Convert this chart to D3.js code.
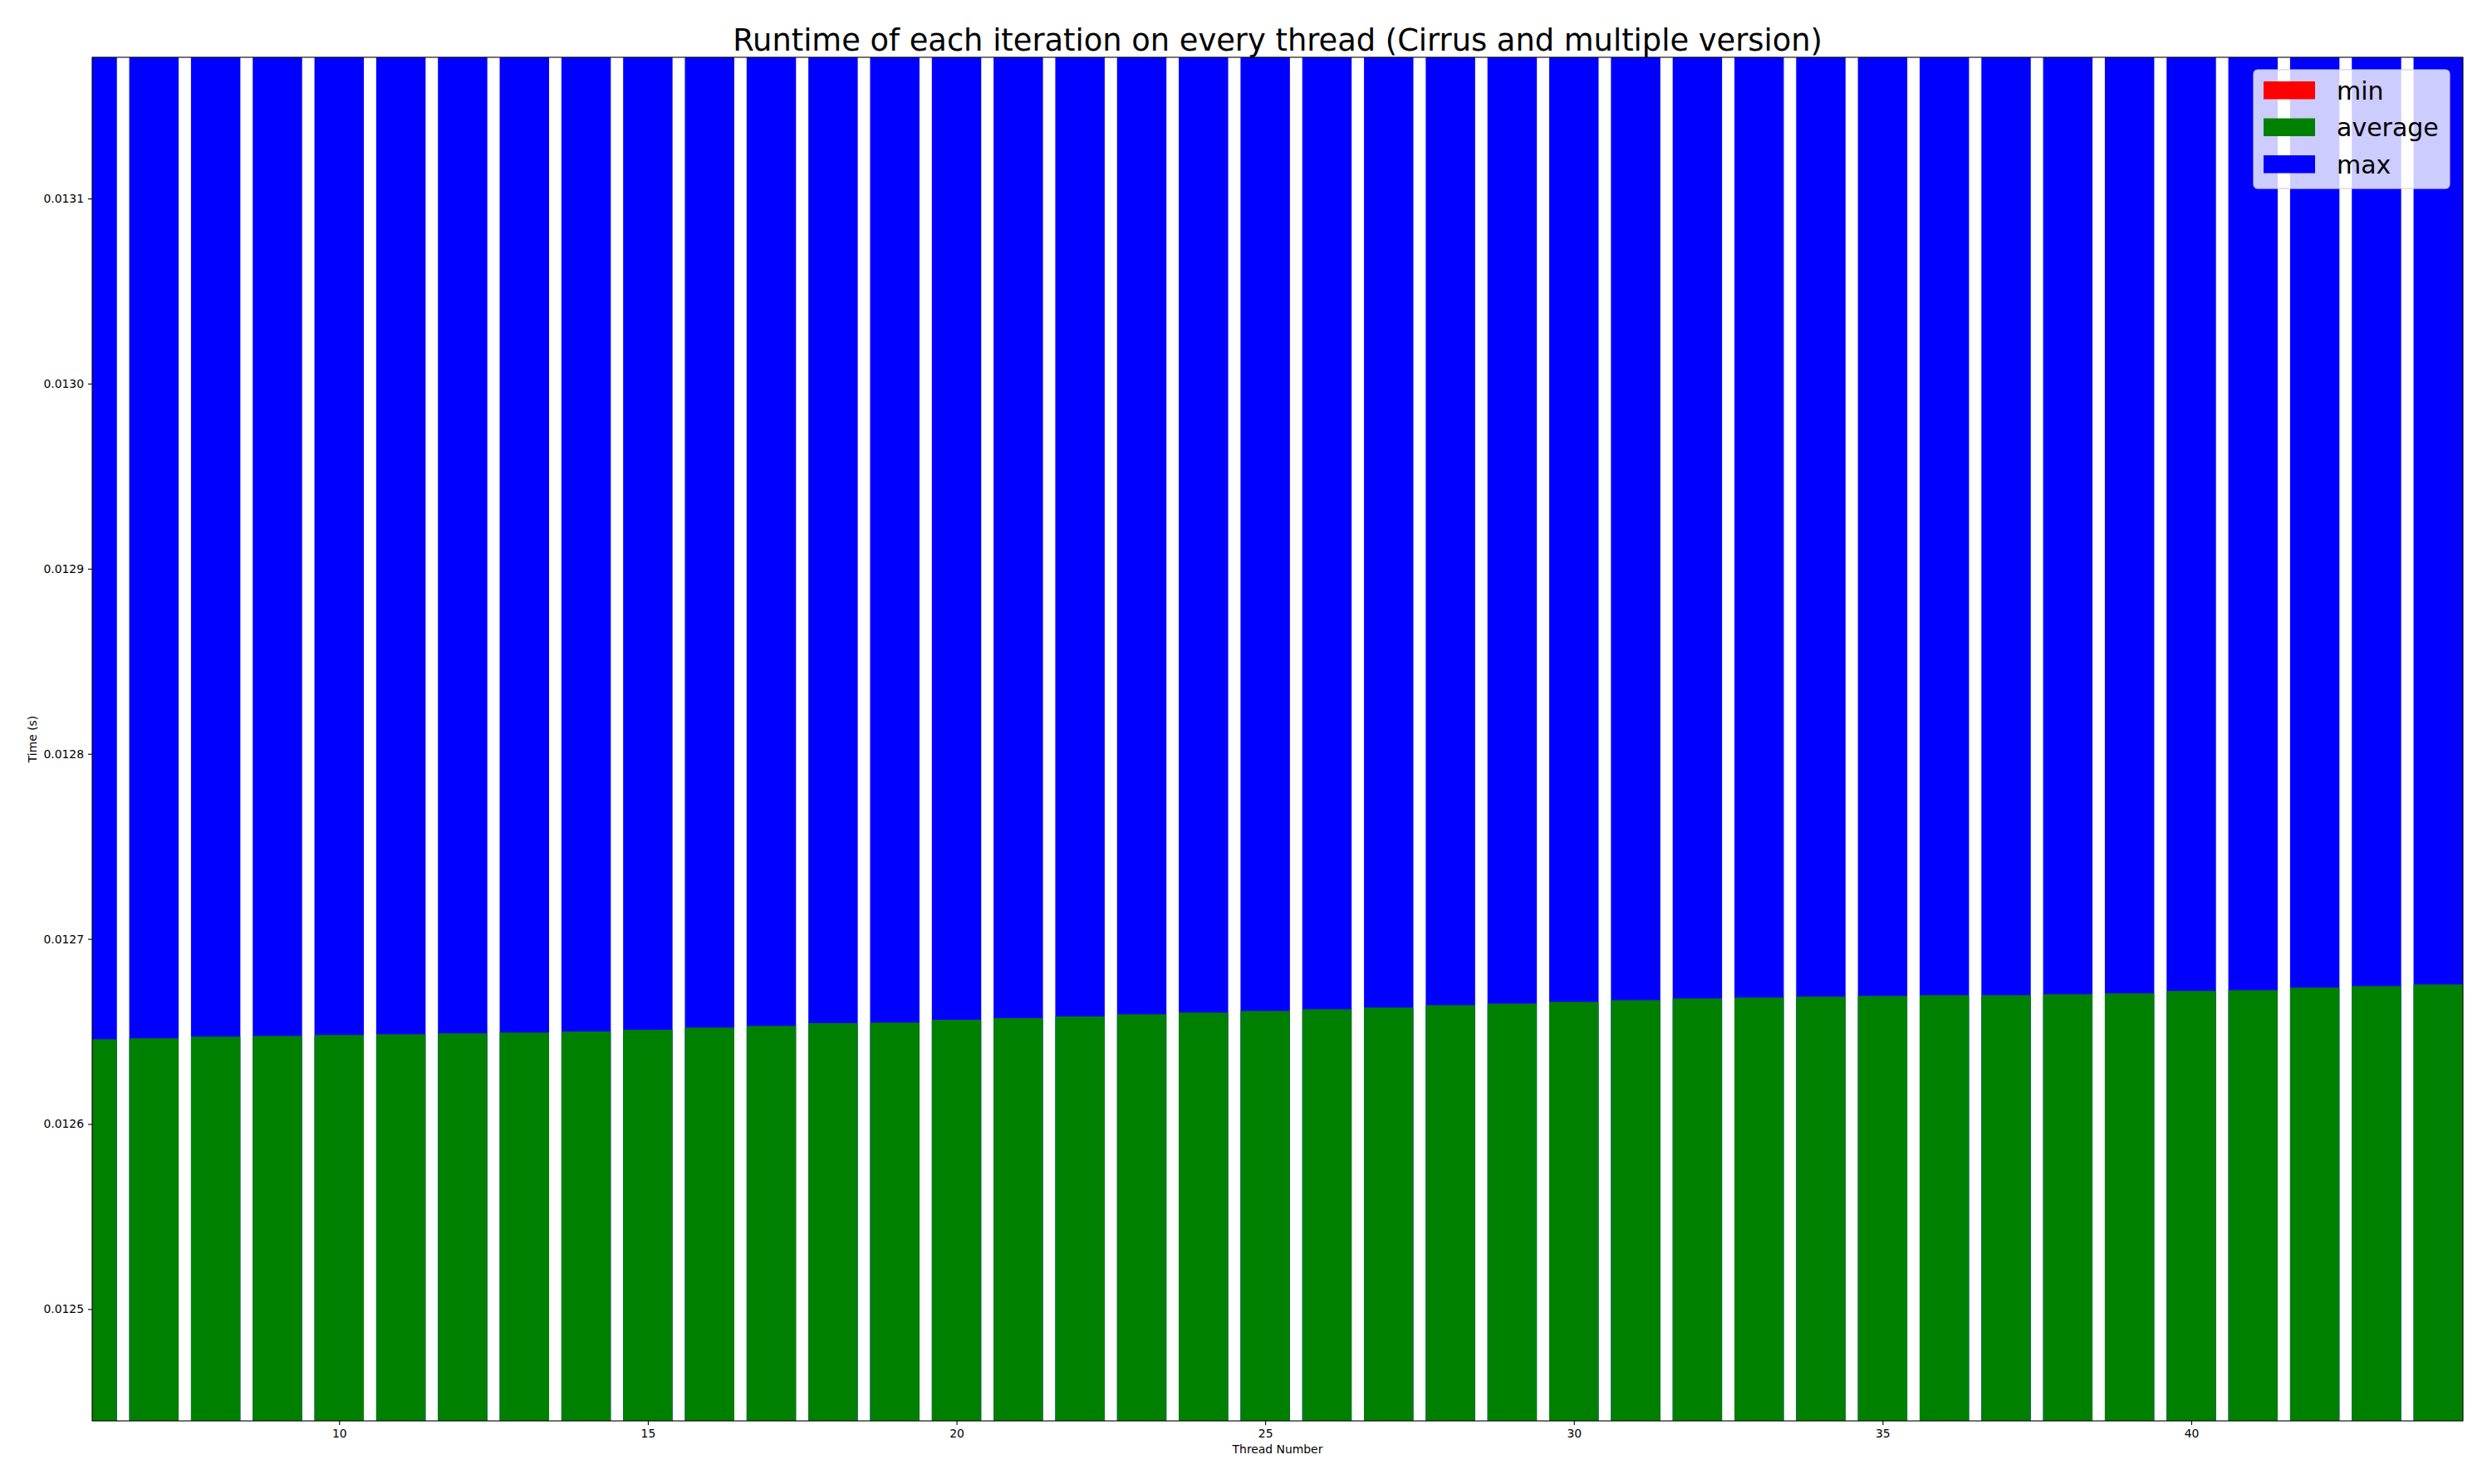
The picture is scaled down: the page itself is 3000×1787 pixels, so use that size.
<!DOCTYPE html>
<html>
<head>
<meta charset="utf-8">
<script src="https://cdn.jsdelivr.net/npm/d3@7"></script>
<style>
  html, body { margin: 0; padding: 0; background: #fff; }
  svg { display: block; font-family: "DejaVu Sans", sans-serif; }
</style>
</head>
<body>
<script>
// ---- data ----
const threads = [6,7,8,9,10,11,12,13,14,15,16,17,18,19,20,21,22,23,24,25,26,27,28,29,30,31,32,33,34,35,36,37,38,39,40,41,42,43,44];
const avgTimes = [0.0126458,0.0126463,0.0126472,0.0126476,0.0126481,0.0126485,0.0126490,0.0126494,0.0126500,0.0126509,
  0.0126521,0.0126530,0.0126545,0.0126548,0.0126563,0.0126572,0.0126581,0.0126593,0.0126602,0.0126611,
  0.0126620,0.0126629,0.0126642,0.0126651,0.0126660,0.0126669,0.0126678,0.0126683,0.0126688,0.0126692,
  0.0126696,0.0126696,0.0126701,0.0126706,0.0126719,0.0126723,0.0126737,0.0126745,0.0126754];
// max values lie above the visible range and min values below it (estimated; clipped in the reference)
const maxTimes = [0.01402,0.01398,0.01395,0.01401,0.01390,0.01397,0.01403,0.01399,0.01394,0.01396,
  0.01400,0.01392,0.01398,0.01405,0.01391,0.01397,0.01393,0.01399,0.01402,0.01396,
  0.01394,0.01398,0.01401,0.01395,0.01393,0.01399,0.01404,0.01397,0.01392,0.01398,
  0.01400,0.01396,0.01394,0.01399,0.01403,0.01395,0.01397,0.01401,0.01398];
const minTimes = [0.01231,0.01232,0.01230,0.01233,0.01231,0.01232,0.01230,0.01231,0.01233,0.01232,
  0.01231,0.01230,0.01232,0.01233,0.01231,0.01232,0.01230,0.01231,0.01232,0.01233,
  0.01231,0.01230,0.01232,0.01231,0.01233,0.01232,0.01230,0.01231,0.01232,0.01233,
  0.01231,0.01232,0.01230,0.01231,0.01233,0.01232,0.01231,0.01230,0.01232];
const xTicks = [10,15,20,25,30,35,40];
const yTicks = [0.0125,0.0126,0.0127,0.0128,0.0129,0.0130,0.0131];
const seriesNames = ["min","average","max"];
const seriesColors = ["#ff0000","#008000","#0000ff"];
const titleText = "Runtime of each iteration on every thread (Cirrus and multiple version)";
const xLabel = "Thread Number";
const yLabel = "Time (s)";
const xDomain = [6.0, 44.4];
const yDomain = [0.0124396, 0.0131763];
const barWidth = 0.8;

// ---- layout ----
const W = 3000, H = 1787;
const m = {left: 111, top: 69, right: 2965, bottom: 1711};

const svg = d3.select("body").append("svg").attr("width", W).attr("height", H);

const x = d3.scaleLinear().domain(xDomain).range([m.left, m.right]);
const y = d3.scaleLinear().domain(yDomain).range([m.bottom, m.top]);

svg.append("defs").append("clipPath").attr("id", "plotclip")
  .append("rect").attr("x", m.left).attr("y", m.top)
  .attr("width", m.right - m.left).attr("height", m.bottom - m.top);

const plot = svg.append("g").attr("clip-path", "url(#plotclip)");

// drawing order: max, average, min (min on top)
const layers = [
  {vals: maxTimes, color: seriesColors[2]},
  {vals: avgTimes, color: seriesColors[1]},
  {vals: minTimes, color: seriesColors[0]}
];
const base = yDomain[0] - 0.001;
layers.forEach(L => {
  plot.append("g").selectAll("rect").data(threads).join("rect")
    .attr("x", (d) => x(d - barWidth / 2))
    .attr("width", x(barWidth) - x(0))
    .attr("y", (d, i) => y(L.vals[i]))
    .attr("height", (d, i) => y(base) - y(L.vals[i]))
    .attr("fill", L.color);
});

// axes
const xAxis = d3.axisBottom(x).tickValues(xTicks).tickFormat(d3.format("d")).tickSize(5).tickPadding(5);
const yAxis = d3.axisLeft(y).tickValues(yTicks).tickFormat(d3.format(".4f")).tickSize(5).tickPadding(5);

const gx = svg.append("g").attr("transform", `translate(0,${m.bottom})`).call(xAxis);
const gy = svg.append("g").attr("transform", `translate(${m.left},0)`).call(yAxis);
[gx, gy].forEach(g => {
  g.select(".domain").remove();
  g.selectAll("line").attr("stroke", "#000").attr("stroke-width", 1.1);
  g.selectAll("text").attr("fill", "#000").style("font-size", "13.9px").style("font-family", "DejaVu Sans");
});

// frame
svg.append("rect").attr("x", m.left).attr("y", m.top)
  .attr("width", m.right - m.left).attr("height", m.bottom - m.top)
  .attr("fill", "none").attr("stroke", "#000").attr("stroke-width", 1.1);

// title and labels
svg.append("text").attr("x", (m.left + m.right) / 2).attr("y", 61)
  .attr("text-anchor", "middle").style("font-size", "36.8px").text(titleText);
svg.append("text").attr("x", (m.left + m.right) / 2).attr("y", 1750)
  .attr("text-anchor", "middle").style("font-size", "13.9px").text(xLabel);
svg.append("text").attr("transform", `translate(44,${(m.top + m.bottom) / 2}) rotate(-90)`)
  .attr("text-anchor", "middle").style("font-size", "13.9px").text(yLabel);

// legend
const lg = svg.append("g").attr("transform", "translate(2713,84)");
lg.append("rect").attr("width", 236).attr("height", 143).attr("rx", 5).attr("ry", 5)
  .attr("fill", "#fff").attr("fill-opacity", 0.8)
  .attr("stroke", "#cccccc").attr("stroke-width", 1.1);
seriesNames.forEach((name, i) => {
  const row = lg.append("g").attr("transform", `translate(0,${14 + i * 44.5})`);
  row.append("rect").attr("x", 12).attr("y", 0).attr("width", 62).attr("height", 21.5).attr("fill", seriesColors[i]);
  row.append("text").attr("x", 100).attr("y", 21.5).style("font-size", "30px").attr("fill", "#000").text(name);
});
</script>
</body>
</html>
